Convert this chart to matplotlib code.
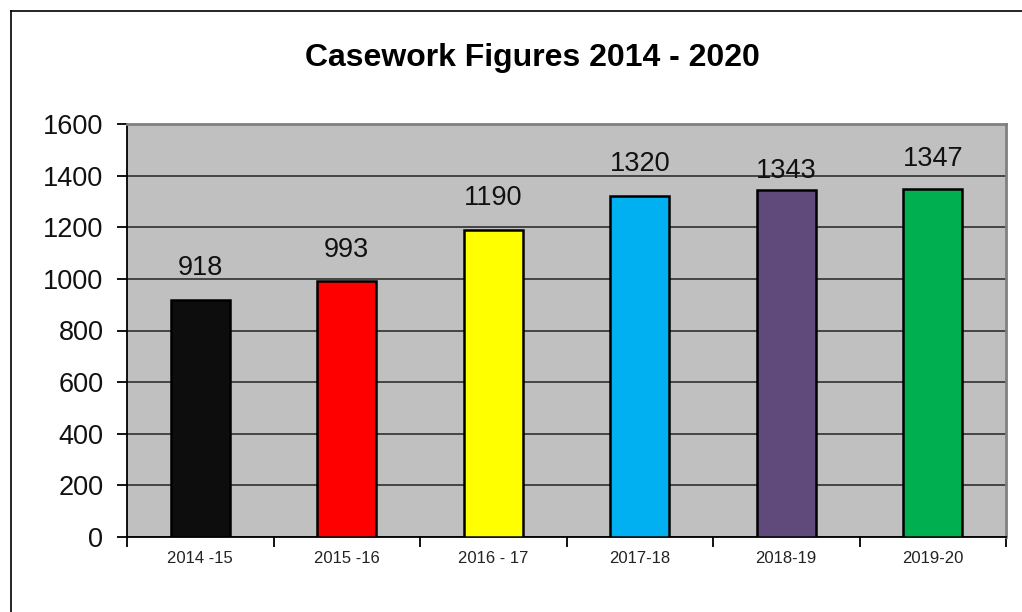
import matplotlib
matplotlib.use("Agg")
import matplotlib.pyplot as plt
from matplotlib.lines import Line2D

plt.rcParams['font.family'] = ['Liberation Sans', 'DejaVu Sans']

categories = ["2014 -15", "2015 -16", "2016 - 17", "2017-18", "2018-19", "2019-20"]
values = [918, 993, 1190, 1320, 1343, 1347]
colors = ["#0D0D0D", "#FF0000", "#FFFF00", "#00B0F0", "#604A7B", "#00B050"]
label_offsets_px = [19, 18, 19, 19, 6, 17]
title = "Casework Figures 2014 - 2020"
yticks = [0, 200, 400, 600, 800, 1000, 1200, 1400, 1600]

W, H = 1022, 612
fig = plt.figure(figsize=(W / 100, H / 100), dpi=100)
fig.patch.set_facecolor("white")

# outer chart border (left and top visible)
fig.add_artist(Line2D([10.5 / W, 10.5 / W], [0, 1 - 10.5 / H], transform=fig.transFigure,
                      color="black", lw=1.2))
fig.add_artist(Line2D([10.5 / W, 1], [1 - 10.5 / H, 1 - 10.5 / H], transform=fig.transFigure,
                      color="black", lw=1.2))

ax = fig.add_axes([127 / W, (H - 537) / H, (1006 - 127) / W, (537 - 124) / H])
ax.set_facecolor("#C0C0C0")

x = list(range(len(categories)))
ax.bar(x, values, width=0.4, color=colors, edgecolor="black", linewidth=1.8, zorder=3)

ax.set_xlim(-0.5, len(categories) - 0.5)
ax.set_ylim(0, 1600)
ax.set_yticks(yticks)
ax.set_yticklabels([str(v) for v in yticks], fontsize=19.5, color="#111111")
ax.yaxis.grid(True, color="#3A3A3A", linewidth=1.3, zorder=1)
ax.set_axisbelow(True)

ax.set_xticks(x)
ax.set_xticklabels(categories, fontsize=12, color="#222222")
ax.set_xticks([i - 0.5 for i in range(len(categories) + 1)], minor=True)
ax.tick_params(axis="x", which="major", length=0, pad=10)
ax.tick_params(axis="x", which="minor", length=7, width=1.3, direction="out", color="black")
ax.tick_params(axis="y", length=7, width=1.3, direction="out", color="black", pad=10)

for side in ["top", "right"]:
    ax.spines[side].set_color("#808080")
    ax.spines[side].set_linewidth(2)
for side in ["left", "bottom"]:
    ax.spines[side].set_color("black")
    ax.spines[side].set_linewidth(1.3)

for xi, v, off in zip(x, values, label_offsets_px):
    ax.annotate(str(v), xy=(xi, v), xytext=(0, off * 0.72), textcoords="offset points",
                ha="center", va="bottom", fontsize=19.5, color="#111111", zorder=4)

fig.text(532 / W, 1 - 58 / H, title, ha="center", va="center", fontsize=23,
         fontweight="bold", color="black")

fig.savefig("out.png", dpi=100)
